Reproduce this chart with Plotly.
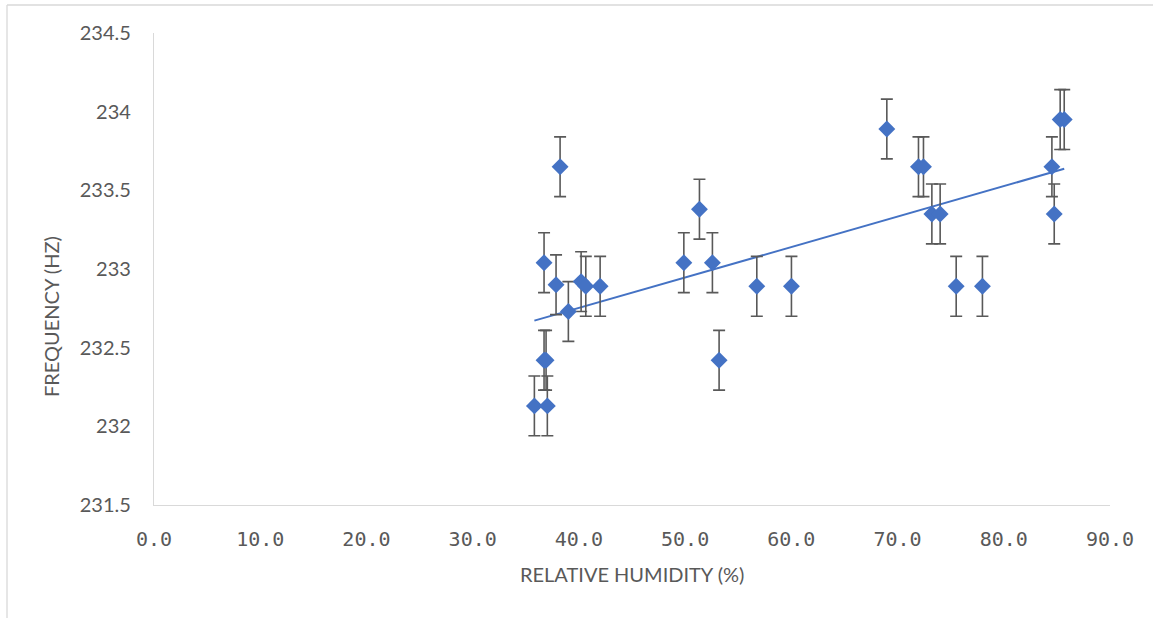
import numpy as np
import plotly.graph_objects as go

# Relative humidity (%) and frequency (Hz)
humidity = [35.81, 37.03, 36.72, 36.91, 36.72, 37.85, 38.23, 39.01, 40.21, 40.65,
            42.0, 49.88, 51.35, 52.57, 53.2, 56.75, 60.01, 68.99, 71.97, 72.44,
            73.23, 74.01, 75.52, 77.99, 84.53, 84.75, 85.31, 85.69]
frequency = [232.13, 232.13, 232.42, 232.42, 233.04, 232.90, 233.65, 232.73, 232.92, 232.89,
             232.89, 233.04, 233.38, 233.04, 232.42, 232.89, 232.89, 233.89, 233.65, 233.65,
             233.35, 233.35, 232.89, 232.89, 233.65, 233.35, 233.95, 233.95]
freq_error = 0.19

x_ticks = [0, 10, 20, 30, 40, 50, 60, 70, 80, 90]
x_tick_text = ["0.0", "10.0", "20.0", "30.0", "40.0", "50.0", "60.0", "70.0", "80.0", "90.0"]
y_ticks = [231.5, 232, 232.5, 233, 233.5, 234, 234.5]
y_tick_text = ["231.5", "232", "232.5", "233", "233.5", "234", "234.5"]

BLUE = "#4472C4"
GREY_TEXT = "#595959"
AXIS_GREY = "#D9D9D9"

slope, intercept = np.polyfit(humidity, frequency, 1)
trend_x = np.array([min(humidity), max(humidity)])
trend_y = slope * trend_x + intercept

fig = go.Figure()
fig.add_trace(go.Scatter(
    x=trend_x, y=trend_y, mode="lines",
    line=dict(color=BLUE, width=2), hoverinfo="skip", showlegend=False))
fig.add_trace(go.Scatter(
    x=humidity, y=frequency, mode="markers",
    marker=dict(symbol="diamond", size=13, color=BLUE, line=dict(width=0)),
    error_y=dict(type="constant", value=freq_error, color="#595959", thickness=1.6, width=6),
    showlegend=False))

L, R, T, B = 154, 43, 33, 113
W, H = 1153, 618
pw, ph = W - L - R, H - T - B

def px_x(px):
    return (px - L) / pw

def px_y(py):
    return (H - B - py) / ph

fig.update_layout(
    width=W, height=H,
    margin=dict(l=L, r=R, t=T, b=B),
    paper_bgcolor="white", plot_bgcolor="white",
    font=dict(family="Lato, Open Sans, sans-serif", color=GREY_TEXT),
    xaxis=dict(range=[0, 90], tickvals=x_ticks, ticktext=x_tick_text,
               showgrid=False, zeroline=False, showline=True, linecolor=AXIS_GREY, linewidth=1.3,
               ticks="", ticklabelstandoff=16,
               tickfont=dict(family="DejaVu Sans Mono", size=20, color=GREY_TEXT)),
    yaxis=dict(range=[231.5, 234.5], tickvals=y_ticks, ticktext=y_tick_text,
               showgrid=False, zeroline=False, showline=True, linecolor=AXIS_GREY, linewidth=1.3,
               ticks="", ticklabelstandoff=18,
               tickfont=dict(family="Lato, Open Sans, sans-serif", size=20, color=GREY_TEXT)),
    annotations=[
        dict(text="RELATIVE HUMIDITY (%)", xref="paper", yref="paper",
             x=px_x(632), y=px_y(574), xanchor="center", yanchor="middle", showarrow=False,
             font=dict(family="Lato, Open Sans, sans-serif", size=20, color=GREY_TEXT)),
        dict(text="FREQUENCY (HZ)", xref="paper", yref="paper", textangle=-90,
             x=px_x(51), y=px_y(317), xanchor="center", yanchor="middle", showarrow=False,
             font=dict(family="Lato, Open Sans, sans-serif", size=20, color=GREY_TEXT)),
    ],
    shapes=[
        dict(type="line", xref="paper", yref="paper", x0=px_x(7), x1=px_x(1153),
             y0=px_y(5), y1=px_y(5), line=dict(color=AXIS_GREY, width=1.3)),
        dict(type="line", xref="paper", yref="paper", x0=px_x(7), x1=px_x(7),
             y0=px_y(5), y1=px_y(618), line=dict(color=AXIS_GREY, width=1.3)),
    ],
)

fig.write_html("out.html")
